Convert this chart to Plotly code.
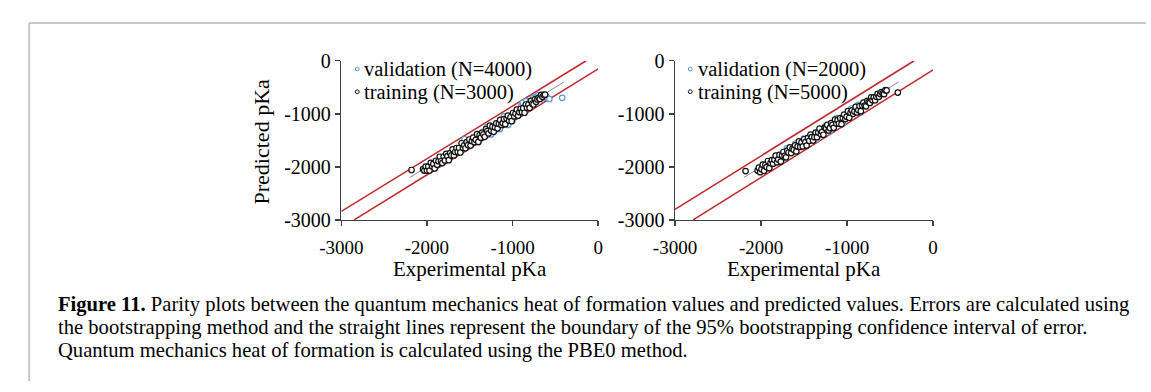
import plotly.graph_objects as go

# ---------------- data ----------------
tick_vals = [-3000, -2000, -1000, 0]
tick_text = ["-3000", "-2000", "-1000", "0"]

left_train_x = [-2180, -2045, -2030, -2015, -2000, -1985, -1970, -1955, -1940, -1925,
                -1910, -1895, -1880, -1865, -1850, -1835, -1820, -1805, -1790, -1775,
                -1760, -1745, -1730, -1715, -1700, -1685, -1670, -1655, -1640, -1625,
                -1610, -1595, -1580, -1565, -1550, -1535, -1520, -1505, -1490, -1475,
                -1460, -1445, -1430, -1415, -1400, -1385, -1370, -1355, -1340, -1325,
                -1310, -1295, -1280, -1265, -1250, -1235, -1220, -1205, -1190, -1175,
                -1160, -1145, -1130, -1115, -1100, -1085, -1070, -1055, -1040, -1025,
                -1010, -995, -980, -965, -950, -935, -920, -905, -890, -875,
                -860, -845, -830, -815, -800, -785, -770, -755, -740, -725,
                -710, -695, -680, -665, -650, -635, -620]
left_train_y = [-2060, -2045, -2070, -1995, -2070, -1995, -2070, -1925, -1990, -1945,
                -2030, -1885, -1960, -1895, -1810, -1895, -1930, -1805, -1880, -1755,
                -1800, -1875, -1740, -1785, -1670, -1785, -1720, -1645, -1720, -1645,
                -1730, -1555, -1640, -1595, -1650, -1535, -1590, -1485, -1600, -1515,
                -1450, -1535, -1490, -1385, -1530, -1405, -1450, -1355, -1390, -1435,
                -1290, -1325, -1370, -1225, -1320, -1245, -1340, -1255, -1180, -1275,
                -1190, -1115, -1210, -1175, -1100, -1195, -1090, -1035, -1130, -1065,
                -1140, -985, -1050, -995, -920, -1035, -970, -905, -970, -895,
                -980, -825, -890, -825, -890, -755, -810, -825, -730, -775,
                -730, -695, -720, -645, -680, -645, -640]
left_val_x = [-1750, -1620, -1560, -1400, -1300, -1250, -1150, -1100, -1050, -1000, -950, -900,
              -880, -860, -840, -820, -800, -760, -720, -700, -680, -660, -640, -600, -570, -420]
left_val_y = [-1800, -1720, -1480, -1530, -1250, -1390, -1290, -1050, -1210, -1130, -950, -860,
              -790, -910, -760, -850, -770, -700, -680, -650, -720, -690, -700, -690, -720, -700]

right_train_x = [-2180, -2040, -2025, -2010, -1995, -1980, -1965, -1950, -1935, -1920, -1905,
                 -1890, -1875, -1860, -1845, -1830, -1815, -1800, -1785, -1770, -1755,
                 -1740, -1725, -1710, -1695, -1680, -1665, -1650, -1635, -1620, -1605,
                 -1590, -1575, -1560, -1545, -1530, -1515, -1500, -1485, -1470, -1455,
                 -1440, -1425, -1410, -1395, -1380, -1365, -1350, -1335, -1320, -1305,
                 -1290, -1275, -1260, -1245, -1230, -1215, -1200, -1185, -1170, -1155,
                 -1140, -1125, -1110, -1095, -1080, -1065, -1050, -1035, -1020, -1005,
                 -990, -975, -960, -945, -930, -915, -900, -885, -870, -855,
                 -840, -825, -810, -795, -780, -765, -750, -735, -720, -705,
                 -690, -675, -660, -645, -630, -615, -600, -585, -570, -555, -540, -410]
right_train_y = [-2080, -2070, -2015, -2100, -2045, -1960, -2075, -1960, -2005, -1890, -2025,
                 -1930, -1875, -1940, -1865, -1790, -1915, -1860, -1775, -1900, -1785,
                 -1720, -1795, -1820, -1695, -1730, -1635, -1740, -1655, -1680, -1595,
                 -1710, -1615, -1520, -1625, -1540, -1615, -1480, -1535, -1600, -1455,
                 -1510, -1395, -1440, -1505, -1440, -1355, -1440, -1355, -1280, -1385,
                 -1340, -1395, -1260, -1275, -1210, -1315, -1270, -1175, -1210, -1265,
                 -1110, -1185, -1120, -1185, -1080, -1195, -1080, -1015, -1100, -1055,
                 -950, -1075, -980, -935, -1000, -955, -870, -975, -930, -855,
                 -950, -845, -790, -845, -860, -755, -780, -795, -690, -745,
                 -690, -745, -680, -625, -680, -625, -590, -615, -630, -555, -560, -600]
right_val_x = [-1900, -1760, -1700, -1600, -1500, -1420, -1350, -1250, -1200, -1120, -1050, -1000,
               -950, -900, -870, -850, -800, -750]
right_val_y = [-2000, -1880, -1650, -1560, -1470, -1390, -1480, -1230, -1330, -1080, -1180, -1060,
               -900, -880, -830, -960, -820, -780]

fit_x = [-2200, -400]
fit_y = [-2200, -400]

left_upper_x = [-3000, -140]
left_upper_y = [-2840, 0]
left_lower_x = [-2850, 0]
left_lower_y = [-3000, -155]
right_upper_x = [-3000, -220]
right_upper_y = [-2800, 0]
right_lower_x = [-2790, 0]
right_lower_y = [-3000, -170]

legend_left = ["validation (N=4000)", "training (N=3000)"]
legend_right = ["validation (N=2000)", "training (N=5000)"]
caption_lines = [
    "<b>Figure 11.</b> Parity plots between the quantum mechanics heat of formation values and predicted values. Errors are calculated using",
    "the bootstrapping method and the straight lines represent the boundary of the 95% bootstrapping confidence interval of error.",
    "Quantum mechanics heat of formation is calculated using the PBE0 method.",
]

# ---------------- style ----------------
W, H = 1151, 392
FONT = "Liberation Serif"
RED = "#c0282d"
BLUE = "#5b9bd5"
AXC = "#404040"


def px(x):
    return x / W


def py(y):
    return 1 - y / H


fig = go.Figure()


def add_panel(xa, ya, tx, ty, vx, vy, ux, uy, lx, ly):
    common = dict(xaxis=xa, yaxis=ya, showlegend=False, hoverinfo="skip")
    for (a, b) in [(ux, uy), (lx, ly)]:
        fig.add_trace(go.Scatter(x=a, y=b, mode="lines", line=dict(color=RED, width=1.5), **common))
    fig.add_trace(go.Scatter(x=fit_x, y=fit_y, mode="lines", line=dict(color="#8c8c8c", width=1), **common))
    fig.add_trace(go.Scatter(x=vx, y=vy, mode="markers",
                             marker=dict(symbol="circle", size=5.5, color="white",
                                         line=dict(color=BLUE, width=1.2)),
                             cliponaxis=False, **common))
    fig.add_trace(go.Scatter(x=tx, y=ty, mode="markers",
                             marker=dict(symbol="circle", size=5.5, color="white",
                                         line=dict(color="#111111", width=1.2)),
                             cliponaxis=False, **common))


add_panel("x", "y", left_train_x, left_train_y, left_val_x, left_val_y,
          left_upper_x, left_upper_y, left_lower_x, left_lower_y)
add_panel("x2", "y2", right_train_x, right_train_y, right_val_x, right_val_y,
          right_upper_x, right_upper_y, right_lower_x, right_lower_y)

ax_common = dict(range=[-3000, 0], tickvals=tick_vals, ticktext=tick_text, showgrid=False, zeroline=False,
                 showline=True, linecolor=AXC, linewidth=1.5, ticks="outside", ticklen=5, tickwidth=1.5,
                 tickcolor=AXC, fixedrange=True)
x_font = dict(family=FONT, size=19, color="black")
y_font = dict(family=FONT, size=20, color="black")

y_dom = [py(221.3), py(52.7)]
fig.update_layout(
    width=W, height=H, margin=dict(l=0, r=0, t=0, b=0),
    paper_bgcolor="white", plot_bgcolor="white",
    xaxis=dict(domain=[px(327), px(590)], anchor="y", ticklabelstandoff=5, tickfont=x_font, **ax_common),
    yaxis=dict(domain=y_dom, anchor="x", ticklabelstandoff=0, tickfont=y_font, **ax_common),
    xaxis2=dict(domain=[px(668.7), px(933)], anchor="y2", ticklabelstandoff=5, tickfont=x_font, **ax_common),
    yaxis2=dict(domain=y_dom, anchor="x2", ticklabelstandoff=0, tickfont=y_font, **ax_common),
    showlegend=False,
)

ann = []
# axis titles
ann.append(dict(text="Predicted pKa", x=px(245), y=py(139), textangle=-90, font=dict(size=22)))
ann.append(dict(text="Experimental pKa", x=px(458.5), y=py(273), font=dict(size=21)))
ann.append(dict(text="Experimental pKa", x=px(800.8), y=py(273), font=dict(size=21)))

# legends
shapes = []
for (mx, tx0, labels) in [(343.3, 348, legend_left), (684.3, 690, legend_right)]:
    for i, (lab, col, yy) in enumerate(zip(labels, [BLUE, "#111111"], [62.5, 86.5])):
        ann.append(dict(text=lab, x=px(tx0), y=py(yy), xanchor="left", font=dict(size=20.5)))
        r = 2.0
        shapes.append(dict(type="circle", xref="paper", yref="paper",
                           x0=px(mx - r), x1=px(mx + r), y0=py(yy - 1 + r), y1=py(yy - 1 - r),
                           line=dict(color=col, width=1), fillcolor="white"))

# caption
for txt, yy in zip(caption_lines, [311, 335.5, 360]):
    ann.append(dict(text=txt, x=px(35), y=py(yy), xanchor="left", font=dict(size=20.6)))

for a in ann:
    a.setdefault("xref", "paper")
    a.setdefault("yref", "paper")
    a.setdefault("showarrow", False)
    a.setdefault("xanchor", "center")
    a.setdefault("yanchor", "middle")
    a["font"] = dict(family=FONT, color="black", **a["font"])

# border frame
shapes.append(dict(type="line", xref="paper", yref="paper", x0=px(7.3), x1=1.0, y0=py(12.7), y1=py(12.7),
                   line=dict(color="#c8c8c8", width=2)))
shapes.append(dict(type="line", xref="paper", yref="paper", x0=px(7.3), x1=px(7.3), y0=py(12.7), y1=0.0,
                   line=dict(color="#c8c8c8", width=2)))

fig.update_layout(annotations=ann, shapes=shapes)
fig.write_html(
    "out.html",
    config={"displayModeBar": False, "staticPlot": True},
    post_script="document.body.style.margin='0px';"
                "document.body.style.overflow='hidden';"
                "document.documentElement.style.overflow='hidden';",
)
